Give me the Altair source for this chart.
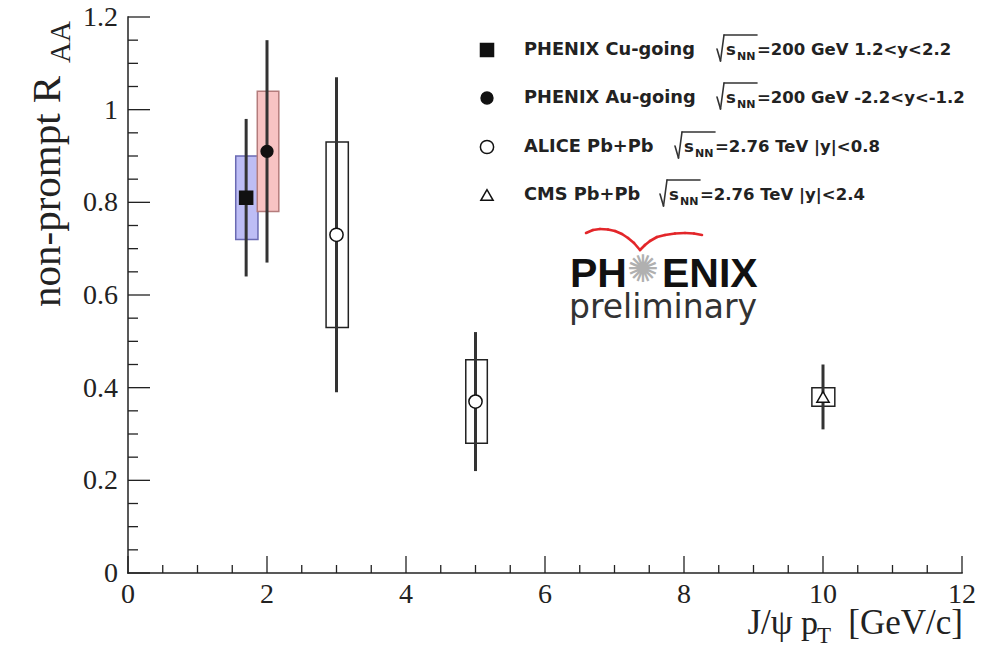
import altair as alt
import pandas as pd

# ---------------- data ----------------
series = ["PHENIX Cu-going", "PHENIX Au-going", "ALICE Pb+Pb", "ALICE Pb+Pb", "CMS Pb+Pb"]
pt = [1.7, 2.0, 3.0, 5.0, 10.0]
raa = [0.81, 0.91, 0.73, 0.37, 0.38]
stat_lo = [0.64, 0.67, 0.39, 0.22, 0.31]
stat_hi = [0.98, 1.15, 1.07, 0.52, 0.45]
sys_lo = [0.72, 0.78, 0.53, 0.28, 0.36]
sys_hi = [0.90, 1.04, 0.93, 0.46, 0.40]
box_x_lo = [1.55, 1.86, 2.85, 4.86, 9.84]
box_x_hi = [1.87, 2.17, 3.17, 5.17, 10.17]

x_major = [0, 2, 4, 6, 8, 10, 12]
x_labels = ["0", "2", "4", "6", "8", "10", "12"]
x_minor = [0.5, 1, 1.5, 2.5, 3, 3.5, 4.5, 5, 5.5, 6.5, 7, 7.5, 8.5, 9, 9.5, 10.5, 11, 11.5]
y_major = [0, 0.2, 0.4, 0.6, 0.8, 1.0, 1.2]
y_labels = ["0", "0.2", "0.4", "0.6", "0.8", "1", "1.2"]
y_minor = [0.05, 0.1, 0.15, 0.25, 0.3, 0.35, 0.45, 0.5, 0.55, 0.65, 0.7, 0.75,
           0.85, 0.9, 0.95, 1.05, 1.1, 1.15]

leg_names = ["PHENIX Cu-going", "PHENIX Au-going", "ALICE Pb+Pb", "CMS Pb+Pb"]
leg_energy = ["=200 GeV 1.2<y<2.2", "=200 GeV -2.2<y<-1.2", "=2.76 TeV |y|<0.8", "=2.76 TeV |y|<2.4"]

# ---------------- styles ----------------
box_fill = {"PHENIX Cu-going": "#bdbdf5", "PHENIX Au-going": "#f7c3c3",
            "ALICE Pb+Pb": "#ffffff", "CMS Pb+Pb": "#ffffff"}
box_stroke = {"PHENIX Cu-going": "#6a6ab2", "PHENIX Au-going": "#b47c7c",
              "ALICE Pb+Pb": "#222222", "CMS Pb+Pb": "#222222"}
mk_shape = {"PHENIX Cu-going": "square", "PHENIX Au-going": "circle",
            "ALICE Pb+Pb": "circle", "CMS Pb+Pb": "triangle-up"}
mk_fill = {"PHENIX Cu-going": "#111111", "PHENIX Au-going": "#111111",
           "ALICE Pb+Pb": "#ffffff", "CMS Pb+Pb": "#ffffff"}
mk_size = {"PHENIX Cu-going": 170, "PHENIX Au-going": 140,
           "ALICE Pb+Pb": 175, "CMS Pb+Pb": 150}

W, H = 834, 556
SERIF = "Liberation Serif, Times New Roman, serif"
SANS = "DejaVu Sans, sans-serif"
INK = "#222222"

df = pd.DataFrame(dict(series=series, pt=pt, raa=raa, stat_lo=stat_lo, stat_hi=stat_hi,
                       sys_lo=sys_lo, sys_hi=sys_hi, bx0=box_x_lo, bx1=box_x_hi))
df["bfill"] = df.series.map(box_fill)
df["bstroke"] = df.series.map(box_stroke)
df["shape"] = df.series.map(mk_shape)
df["mfill"] = df.series.map(mk_fill)
df["msize"] = df.series.map(mk_size)

xs = alt.Scale(domain=[0, 12], nice=False, zero=False)
ys = alt.Scale(domain=[0, 1.2], nice=False, zero=False)


def X(f):
    return alt.X(f, type="quantitative", scale=xs, axis=None, title=None)


def Y(f):
    return alt.Y(f, type="quantitative", scale=ys, axis=None, title=None)


one = pd.DataFrame({"k": [0]})


def txt(s, x, y, size, font=SANS, weight="normal", color=INK, align="left", angle=0):
    kw = dict(text=s, align=align, baseline="alphabetic", font=font, fontSize=size,
              fontWeight=weight, color=color)
    if angle:
        kw["angle"] = angle
    return alt.Chart(one).mark_text(**kw).encode(x=alt.value(x), y=alt.value(y))


def seg(x1, y1, x2, y2, color="#333333", w=1.6, cap="round"):
    return alt.Chart(one).mark_rule(color=color, strokeWidth=w, strokeCap=cap).encode(
        x=alt.value(x1), y=alt.value(y1), x2=alt.value(x2), y2=alt.value(y2))


layers = []

# ---------------- axes (ROOT style, inward ticks) ----------------
layers.append(seg(0, 0, 0, H, color=INK, w=1.5, cap="square"))
layers.append(seg(0, H, W, H, color=INK, w=1.5, cap="square"))
layers.append(alt.Chart(pd.DataFrame({"v": x_major})).mark_rule(color=INK, strokeWidth=1.3).encode(
    x=X("v"), y=alt.value(H), y2=alt.value(H - 17)))
layers.append(alt.Chart(pd.DataFrame({"v": x_minor})).mark_rule(color=INK, strokeWidth=1.3).encode(
    x=X("v"), y=alt.value(H), y2=alt.value(H - 8)))
layers.append(alt.Chart(pd.DataFrame({"v": y_major})).mark_rule(color=INK, strokeWidth=1.3).encode(
    y=Y("v"), x=alt.value(0), x2=alt.value(22)))
layers.append(alt.Chart(pd.DataFrame({"v": y_minor})).mark_rule(color=INK, strokeWidth=1.3).encode(
    y=Y("v"), x=alt.value(0), x2=alt.value(10)))
layers.append(alt.Chart(pd.DataFrame({"v": x_major, "lab": x_labels})).mark_text(
    align="center", baseline="top", font=SERIF, fontSize=28, color=INK).encode(
    x=X("v"), y=alt.value(H + 8), text="lab:N"))
layers.append(alt.Chart(pd.DataFrame({"v": y_major, "lab": y_labels})).mark_text(
    align="right", baseline="middle", font=SERIF, fontSize=28, color=INK, dy=1).encode(
    y=Y("v"), x=alt.value(-10), text="lab:N"))

# ---------------- data marks ----------------
base = alt.Chart(df)
layers.append(base.mark_rect(strokeWidth=1.5).encode(
    x=X("bx0"), x2="bx1", y=Y("sys_lo"), y2="sys_hi",
    fill=alt.Fill("bfill:N", scale=None), stroke=alt.Stroke("bstroke:N", scale=None)))
layers.append(base.mark_rule(color="#333333", strokeWidth=3).encode(
    x=X("pt"), y=Y("stat_lo"), y2="stat_hi"))
layers.append(base.mark_point(opacity=1, strokeWidth=1.5, stroke="#111111").encode(
    x=X("pt"), y=Y("raa"),
    shape=alt.Shape("shape:N", scale=None),
    fill=alt.Fill("mfill:N", scale=None),
    size=alt.Size("msize:Q", scale=None)))

# ---------------- legend ----------------
row_base = [38, 86, 135, 183]
sqrt_x = [589, 589, 547, 532]
for i, name in enumerate(leg_names):
    b = row_base[i]
    sx = sqrt_x[i]
    layers.append(alt.Chart(one).mark_point(
        shape=mk_shape[name], size=mk_size[name], opacity=1, fill=mk_fill[name],
        stroke="#111111", strokeWidth=1.5).encode(x=alt.value(359), y=alt.value(b - 5)))
    layers.append(txt(name, 396, b, 17.8, weight="bold"))
    layers.append(txt("s", sx + 9, b, 16.5, weight="bold"))
    layers.append(txt("NN", sx + 20, b + 5, 11, weight="bold"))
    layers.append(txt(leg_energy[i], sx + 40, b, 16.5, weight="bold"))
    layers.append(seg(sx, b - 6, sx + 3.5, b + 6))
    layers.append(seg(sx + 3.5, b + 6, sx + 7, b - 20))
    layers.append(seg(sx + 7, b - 20, sx + 40, b - 20))

# ---------------- PHENIX preliminary logo ----------------
wing_l = [(458, 216), (465, 213), (472, 212), (480, 212.5), (487, 214), (494, 217),
          (500, 221), (506, 226), (512, 233)]
wing_r = [(512, 233), (517, 228), (522, 224), (529, 220), (537, 218), (547, 216.5),
          (557, 216), (566, 216.5), (574, 218)]
for wing in (wing_l, wing_r):
    for (x1, y1), (x2, y2) in zip(wing[:-1], wing[1:]):
        layers.append(seg(x1, y1, x2, y2, color="#e3262a", w=2.6))

LOGO = "Liberation Sans, Arial, sans-serif"
layers.append(txt("PH", 442, 270, 41, font=LOGO, weight="bold", color="#111111"))
layers.append(txt("ENIX", 534, 270, 41, font=LOGO, weight="bold", color="#111111"))
layers.append(alt.Chart(one).mark_text(text="✺", align="center", baseline="middle", font=SANS,
                                       fontSize=38, color="#b0b0b0").encode(
    x=alt.value(515), y=alt.value(254)))
layers.append(txt("preliminary", 441, 301, 33, font=SANS, color="#333333"))

# ---------------- axis titles ----------------
layers.append(txt("non-prompt R", -68, 290, 41, font=SERIF, angle=270))
layers.append(txt("AA", -58, 46, 29, font=SERIF, angle=270))
layers.append(txt("J/ψ", 642, 617, 35, font=SERIF, align="center"))
layers.append(txt("p", 673, 617, 34, font=SERIF))
layers.append(txt("T", 689, 626, 23, font=SERIF))
layers.append(txt("[GeV/c]", 835, 617, 35, font=SERIF, align="right"))

chart = alt.layer(*layers).properties(
    width=W, height=H,
    autosize=alt.AutoSizeParams(type="none"),
    padding={"left": 120, "top": 9, "right": 16, "bottom": 74},
    background="white",
).configure_view(strokeWidth=0)

chart.save("out.html", embed_options={"renderer": "svg", "actions": False})
